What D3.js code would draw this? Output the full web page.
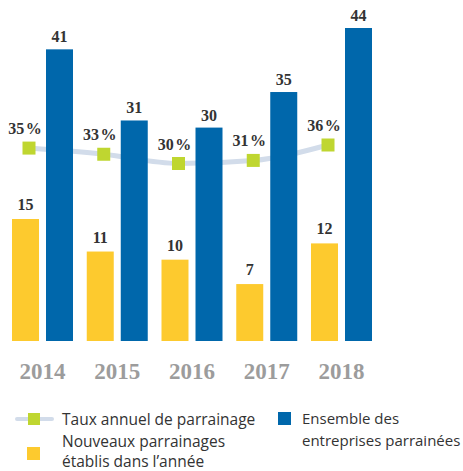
<!DOCTYPE html>
<html><head><meta charset="utf-8">
<script src="https://cdn.jsdelivr.net/npm/d3@7"></script>
<style>body{margin:0;background:#fff}svg{display:block}</style>
</head><body>
<svg id="c" width="463" height="471"></svg>
<script>
const years = ["2014","2015","2016","2017","2018"];
const nouveaux = [15, 11, 10, 7, 12];
const ensemble = [41, 31, 30, 35, 44];
const taux = [35, 33, 30, 31, 36];
const legendTaux = "Taux annuel de parrainage";
const legendNouveaux = ["Nouveaux parrainages", "établis dans l’année"];
const legendEnsemble = ["Ensemble des", "entreprises parrainées"];

const C = {blue:"#0067ab", yellow:"#fdca2e", green:"#bfd630", line:"#d2dcea", text:"#333", year:"#9c9c9c"};
const svg = d3.select("#c");
const base = 341;

const x = d3.scaleBand().domain(years).range([12, 372]).paddingInner(0.184).paddingOuter(0);
const xs = d3.scaleBand().domain(["n","e"]).range([0, x.bandwidth()]).paddingInner(0.206).paddingOuter(0);
const yN = d3.scaleLinear().domain([0, 15]).range([base, 219]);
const yE = d3.scaleLinear().domain([0, 44]).range([base, 28]);
const yT = d3.scaleLinear().domain([30, 36]).range([163.5, 145]);
const mx = (d) => x(d) + 17;

// line (behind bars)
const line = d3.line().x((d,i)=>mx(years[i])).y(d=>yT(d)).curve(d3.curveMonotoneX);
svg.append("path").attr("d", line(taux)).attr("fill","none").attr("stroke",C.line).attr("stroke-width",5).attr("stroke-linecap","round");

const g = svg.selectAll(".grp").data(years).join("g").attr("transform", d=>`translate(${x(d)},0)`);
g.append("rect").attr("x", xs("n")).attr("width", xs.bandwidth())
  .attr("y",(d,i)=>yN(nouveaux[i])).attr("height",(d,i)=>base - yN(nouveaux[i])).attr("fill",C.yellow);
g.append("rect").attr("x", xs("e")).attr("width", xs.bandwidth())
  .attr("y",(d,i)=>yE(ensemble[i])).attr("height",(d,i)=>base - yE(ensemble[i])).attr("fill",C.blue);

const vfont = "'Liberation Serif', serif";
g.append("text").attr("x", xs("n")+xs.bandwidth()/2).attr("y",(d,i)=>yN(nouveaux[i])-9)
  .attr("text-anchor","middle").attr("font-family",vfont).attr("font-weight","bold").attr("font-size",16).attr("fill",C.text)
  .text((d,i)=>nouveaux[i]);
g.append("text").attr("x", xs("e")+xs.bandwidth()/2).attr("y",(d,i)=>yE(ensemble[i])-7)
  .attr("text-anchor","middle").attr("font-family",vfont).attr("font-weight","bold").attr("font-size",16).attr("fill",C.text)
  .text((d,i)=>ensemble[i]);

// markers
svg.selectAll(".mk").data(taux).join("rect").attr("x",(d,i)=>mx(years[i])-6.5).attr("y",d=>yT(d)-6.5)
  .attr("width",13).attr("height",13).attr("fill",C.green);
svg.selectAll(".pl").data(taux).join("text").attr("x",(d,i)=>mx(years[i])-4).attr("y",d=>yT(d)-14)
  .attr("text-anchor","middle").attr("font-family",vfont).attr("font-weight","bold").attr("font-size",16).attr("fill",C.text)
  .text(d=>d+"\u200A%");

// years
svg.selectAll(".yr").data(years).join("text").attr("x",d=>x(d)+x.bandwidth()/2).attr("y",379)
  .attr("text-anchor","middle").attr("font-family",vfont).attr("font-weight","bold").attr("font-size",23).attr("fill",C.year)
  .text(d=>d);

// legend
const lf = "'Open Sans', sans-serif";
const L = svg.append("g");
L.append("line").attr("x1",17).attr("x2",52).attr("y1",419).attr("y2",419).attr("stroke",C.line).attr("stroke-width",4).attr("stroke-linecap","round");
L.append("rect").attr("x",28).attr("y",413).attr("width",12).attr("height",12).attr("fill",C.green);
L.append("text").attr("x",62).attr("y",425).attr("font-family",lf).attr("font-size",15.5).attr("fill",C.text).text(legendTaux);
L.append("rect").attr("x",27).attr("y",447).attr("width",13).attr("height",13).attr("fill",C.yellow);
legendNouveaux.forEach((t,i)=>L.append("text").attr("x",62).attr("y",447+i*20).attr("font-family",lf).attr("font-size",15.5).attr("fill",C.text).text(t));
L.append("rect").attr("x",278).attr("y",412).attr("width",13).attr("height",13).attr("fill",C.blue);
legendEnsemble.forEach((t,i)=>L.append("text").attr("x",302).attr("y",424+i*22).attr("font-family",lf).attr("font-size",15).attr("fill",C.text).text(t));
</script>
</body></html>
